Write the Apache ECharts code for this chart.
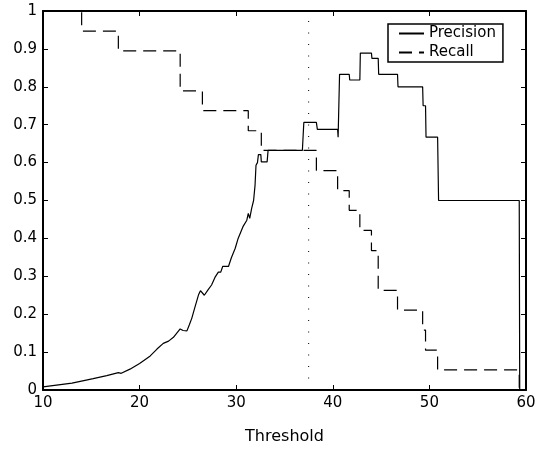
<!DOCTYPE html>
<html>
<head>
<meta charset="utf-8">
<title>Precision / Recall vs Threshold</title>
<script src="https://cdn.jsdelivr.net/npm/echarts@6/dist/echarts.min.js"></script>
<style>
  html, body { margin: 0; padding: 0; background: #ffffff; }
  #chart { width: 539px; height: 450px; }
</style>
</head>
<body>
<div id="chart"></div>
<script>
// precision: smooth-ish rise then steps
const precisionThreshold = [
  10, 13, 15.2, 16.6, 17.8, 18.1, 19, 20, 21.1, 21.8, 22.45, 23, 23.5,
  24.2, 24.5, 24.7, 24.9, 25.15, 25.4, 25.7, 26.1, 26.3, 26.7, 27.1, 27.45,
  27.8, 28.15, 28.4, 28.6, 29.2, 29.5, 29.9, 30.2, 30.7, 31.1, 31.25, 31.4,
  31.6, 31.8, 31.95, 32.05, 32.2, 32.3, 32.55, 32.6, 33.2, 33.3, 36.85, 37.0,
  38.3, 38.4, 40.5, 40.55, 40.65, 40.7, 41.7, 41.75, 42.8, 42.85, 44.0, 44.05,
  44.7, 44.75, 46.7, 46.75, 49.3, 49.35, 49.6, 49.65, 50.85, 50.95, 59.3, 59.35
];
const precisionValues = [
  0.008, 0.018, 0.03, 0.038, 0.046, 0.044, 0.055, 0.07, 0.09, 0.108, 0.123, 0.129, 0.139,
  0.161, 0.157, 0.162, 0.156, 0.172, 0.189, 0.216, 0.251, 0.262, 0.25, 0.265, 0.277,
  0.297, 0.311, 0.311, 0.326, 0.326, 0.349, 0.374, 0.4, 0.431, 0.448, 0.466, 0.453,
  0.479, 0.5, 0.54, 0.593, 0.6, 0.621, 0.621, 0.602, 0.602, 0.632, 0.632, 0.706,
  0.706, 0.6875, 0.6875, 0.667, 0.667, 0.833, 0.833, 0.818, 0.818, 0.889, 0.889, 0.875,
  0.875, 0.833, 0.833, 0.8, 0.8, 0.75, 0.75, 0.667, 0.667, 0.5, 0.5, 0
];

// recall: step function, value holds until the next threshold
const recallThreshold = [
  10, 14, 17.8, 24.2, 26.5, 31.25, 32.6, 38.3, 40.5, 41.7,
  42.8, 44.0, 44.7, 46.7, 49.3, 49.6, 50.85, 59.3
];
const recallValues = [
  1, 0.947, 0.895, 0.789, 0.737, 0.684, 0.632, 0.579, 0.526, 0.474,
  0.421, 0.368, 0.263, 0.211, 0.158, 0.105, 0.053, 0
];

const cutoffThreshold = 37.5;

const ink = '#000000';
const fontFamily = 'DejaVu Sans';

function pairs(xs, ys) {
  return xs.map((x, i) => [x, ys[i]]);
}

const frameLine = { show: true, onZero: false, lineStyle: { color: ink, width: 2 } };
const frameTick = { show: true, inside: true, length: 5, lineStyle: { color: ink, width: 1 } };
const tickText = { color: ink, fontSize: 15, fontFamily: fontFamily };

const chart = echarts.init(document.getElementById('chart'), null, { renderer: 'canvas' });

chart.setOption({
  animation: false,
  backgroundColor: '#ffffff',
  grid: { left: 43, right: 13, top: 11, bottom: 58, containLabel: false },
  legend: {
    data: ['Precision', 'Recall'],
    orient: 'vertical',
    left: 388,
    top: 24,
    padding: [2, 7, 2, 10],
    itemWidth: 25,
    itemHeight: 14,
    itemGap: 4,
    backgroundColor: '#ffffff',
    borderColor: ink,
    borderWidth: 1.5,
    borderRadius: 0,
    itemStyle: { opacity: 0 },
    textStyle: { color: ink, fontSize: 15, fontFamily: fontFamily }
  },
  xAxis: [
    {
      type: 'value',
      position: 'bottom',
      min: 10,
      max: 60,
      interval: 10,
      axisLine: frameLine,
      axisTick: frameTick,
      axisLabel: Object.assign({ margin: 6 }, tickText),
      splitLine: { show: false },
      name: 'Threshold',
      nameLocation: 'middle',
      nameGap: 39,
      nameTextStyle: { color: ink, fontSize: 16, fontFamily: fontFamily }
    },
    {
      type: 'value',
      position: 'top',
      min: 10,
      max: 60,
      interval: 10,
      axisLine: frameLine,
      axisTick: frameTick,
      axisLabel: { show: false },
      splitLine: { show: false }
    }
  ],
  yAxis: [
    {
      type: 'value',
      position: 'left',
      min: 0,
      max: 1,
      interval: 0.1,
      axisLine: frameLine,
      axisTick: frameTick,
      axisLabel: Object.assign({ margin: 6 }, tickText),
      splitLine: { show: false }
    },
    {
      type: 'value',
      position: 'right',
      min: 0,
      max: 1,
      interval: 0.1,
      axisLine: frameLine,
      axisTick: frameTick,
      axisLabel: { show: false },
      splitLine: { show: false }
    }
  ],
  series: [
    {
      name: 'Precision',
      type: 'line',
      xAxisIndex: 0,
      yAxisIndex: 0,
      symbol: 'none',
      data: pairs(precisionThreshold, precisionValues),
      lineStyle: { color: ink, width: 1.2 },
      itemStyle: { color: ink }
    },
    {
      name: 'Recall',
      type: 'line',
      xAxisIndex: 0,
      yAxisIndex: 0,
      symbol: 'none',
      step: 'end',
      data: pairs(recallThreshold, recallValues),
      lineStyle: { color: ink, width: 1.2, type: [13, 7] },
      itemStyle: { color: ink }
    },
    {
      name: 'cutoff',
      type: 'line',
      xAxisIndex: 0,
      yAxisIndex: 0,
      symbol: 'none',
      silent: true,
      data: [[cutoffThreshold, 0], [cutoffThreshold, 1]],
      lineStyle: { color: ink, width: 1, type: [1, 10.5] }
    }
  ]
});
</script>
</body>
</html>
